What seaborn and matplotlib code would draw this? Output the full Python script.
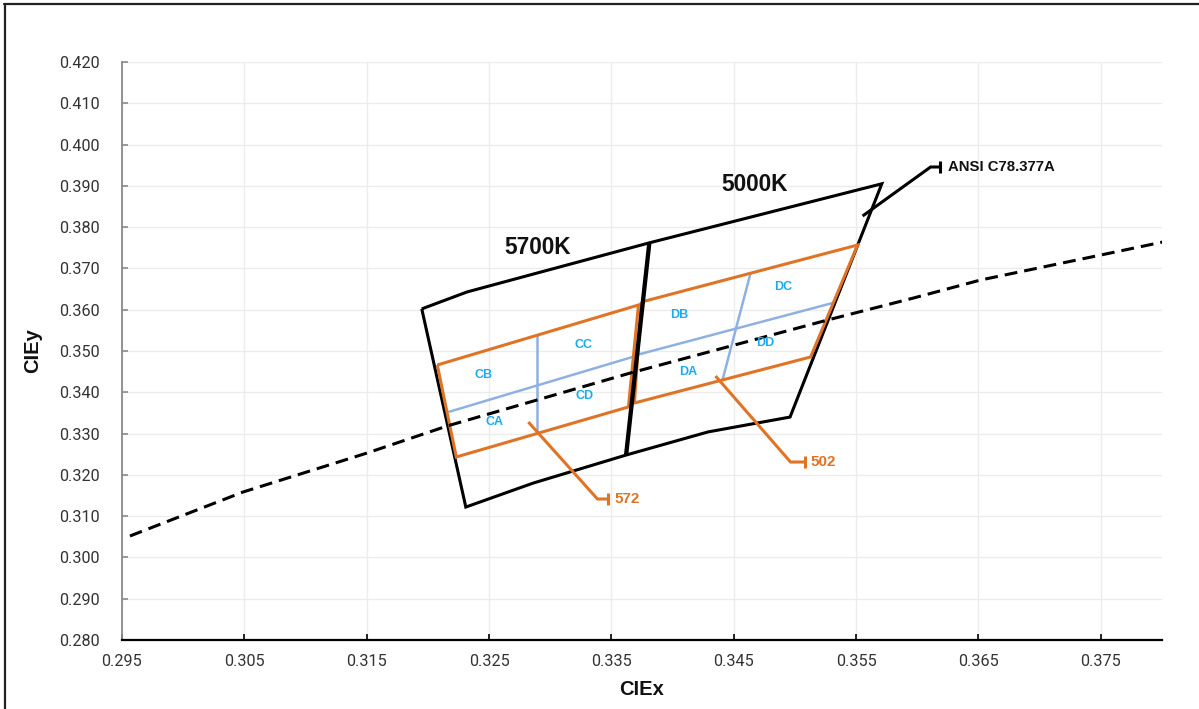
import matplotlib
matplotlib.use("Agg")
import matplotlib.pyplot as plt
import seaborn as sns
import numpy as np
from matplotlib.ticker import FormatStrFormatter
from matplotlib.lines import Line2D

# ---------------- data (CIE x, y) ----------------
planck_x = [0.29565, 0.30490, 0.31504, 0.32158, 0.33655, 0.35267, 0.35970, 0.36518, 0.37500, 0.38007]
planck_y = [0.30519, 0.31585, 0.32530, 0.33184, 0.34467, 0.35751, 0.36284, 0.36720, 0.37325, 0.37640]

outer_x = [0.3195, 0.3232, 0.3292, 0.3381, 0.3571, 0.3496, 0.3429, 0.3362, 0.3286, 0.3231, 0.3195]
outer_y = [0.3602, 0.3643, 0.3691, 0.3762, 0.3905, 0.3340, 0.3304, 0.3248, 0.3180, 0.3122, 0.3602]

divider_x = [0.3381, 0.3362]
divider_y = [0.3762, 0.3248]

orange57_x = [0.32077, 0.33721, 0.33639, 0.32232, 0.32077]
orange57_y = [0.34661, 0.36114, 0.33644, 0.32433, 0.34661]

orange50_x = [0.33745, 0.35512, 0.35128, 0.33688, 0.33745]
orange50_y = [0.36187, 0.37567, 0.34855, 0.33741, 0.36187]

blue57h_x = [0.32167, 0.33672]
blue57h_y = [0.33522, 0.34855]
blue57v_x = [0.32895, 0.32895]
blue57v_y = [0.35400, 0.33009]
blue50h_x = [0.33705, 0.35308]
blue50h_y = [0.34903, 0.36163]
blue50d_x = [0.34637, 0.34408]
blue50d_y = [0.36884, 0.34298]

cell_labels = ["CB", "CC", "CA", "CD", "DB", "DC", "DD", "DA"]
cell_x = [0.32453, 0.33271, 0.32543, 0.33279, 0.34056, 0.34907, 0.34760, 0.34130]
cell_y = [0.34419, 0.35145, 0.33280, 0.33910, 0.35872, 0.36550, 0.35194, 0.34491]

cct_labels = ["5700K", "5000K"]
cct_x = [0.32895, 0.34670]
cct_y = [0.37519, 0.39021]

ansi_x = [0.35553, 0.36109, 0.36183]
ansi_y = [0.38270, 0.39457, 0.39457]
ansi_text = "ANSI C78.377A"

a572_x = [0.32821, 0.33386, 0.33476]
a572_y = [0.33280, 0.31415, 0.31415]
a502_x = [0.34351, 0.34964, 0.35079]
a502_y = [0.34394, 0.32311, 0.32311]
ann_texts = ["572", "502"]

xticks = [0.295, 0.305, 0.315, 0.325, 0.335, 0.345, 0.355, 0.365, 0.375]
yticks = [0.280, 0.290, 0.300, 0.310, 0.320, 0.330, 0.340, 0.350, 0.360, 0.370, 0.380, 0.390, 0.400, 0.410, 0.420]

# ---------------- styling ----------------
sns.set_theme(style="white")
plt.rcParams['font.family'] = ['Roboto', 'DejaVu Sans']

BLACK = "#000000"
ORANGE = "#E07426"
LBLUE = "#8FB1E1"
TXTBLUE = "#1AABEF"
BOLDFAM = ["Liberation Sans", "DejaVu Sans"]

fig = plt.figure(figsize=(11.99, 7.09), dpi=100)
ax = fig.add_axes([0.10175, 0.09732, 0.86739, 0.81523])

def path(xs, ys, color, lw, ls="-", z=3):
    sns.lineplot(x=xs, y=ys, sort=False, estimator=None, ax=ax, color=color,
                 linewidth=lw, linestyle=ls, zorder=z, solid_joinstyle="miter",
                 solid_capstyle="butt")

# Planckian locus (dashed)
path(planck_x, planck_y, BLACK, 2.2, ls=(0, (4.2, 2.3)), z=4)

# outer ANSI quadrangles
path(outer_x, outer_y, BLACK, 2.2)
path(divider_x, divider_y, BLACK, 3.1, z=5)

# orange sub-quadrangles
path(orange57_x, orange57_y, ORANGE, 2.2)
path(orange50_x, orange50_y, ORANGE, 2.2)

# blue sub-division lines
for bx, by in [(blue57h_x, blue57h_y), (blue57v_x, blue57v_y),
               (blue50h_x, blue50h_y), (blue50d_x, blue50d_y)]:
    path(bx, by, LBLUE, 1.8, z=2.5)

# cell labels
for t, x, y in zip(cell_labels, cell_x, cell_y):
    ax.text(x, y, t, color=TXTBLUE, fontsize=9, fontweight="bold",
            family=BOLDFAM, ha="center", va="center", zorder=6)

for t, x, y in zip(cct_labels, cct_x, cct_y):
    ax.text(x, y, t, color="#111111", fontsize=16.3, fontweight="bold",
            family=BOLDFAM, ha="center", va="center", zorder=6)

# ANSI annotation
path(ansi_x, ansi_y, BLACK, 2.2, z=5)
ax.plot([ansi_x[-1]], [ansi_y[-1]], marker="|", color=BLACK, markersize=8, mew=2.2, zorder=5)
ax.text(ansi_x[-1] + 0.00065, ansi_y[-1], ansi_text, color="#111111", fontsize=10.7,
        fontweight="bold", family=BOLDFAM, ha="left", va="center")

# orange annotations
for (axs, ays), t in zip([(a572_x, a572_y), (a502_x, a502_y)], ann_texts):
    path(axs, ays, ORANGE, 2.2, z=5)
    ax.plot([axs[-1]], [ays[-1]], marker="|", color=ORANGE, markersize=8, mew=2.2, zorder=5)
    ax.text(axs[-1] + 0.0005, ays[-1], t, color=ORANGE, fontsize=11, fontweight="bold",
            family=BOLDFAM, ha="left", va="center")

# axes
ax.set_xlim(0.295, 0.380)
ax.set_ylim(0.280, 0.420)
ax.set_xticks(xticks)
ax.set_yticks(yticks)
ax.xaxis.set_major_formatter(FormatStrFormatter('%.3f'))
ax.yaxis.set_major_formatter(FormatStrFormatter('%.3f'))
ax.grid(True, color="#ececec", linewidth=1.0)
ax.set_axisbelow(True)
for s in ["top", "right"]:
    ax.spines[s].set_visible(False)
ax.spines["left"].set_color("#8a8a8a")
ax.spines["left"].set_linewidth(1.3)
ax.spines["bottom"].set_color("#000000")
ax.spines["bottom"].set_linewidth(1.6)
ax.tick_params(axis="x", direction="in", length=4, width=1.2, color="#000000",
               labelsize=11.7, labelcolor="#333333", pad=10)
ax.tick_params(axis="y", direction="in", length=4, width=1.2, color="#8a8a8a",
               labelsize=11.7, labelcolor="#333333", pad=16)
ax.tick_params(axis="x", bottom=True)
ax.tick_params(axis="y", left=True)

ax.set_xlabel("CIEx", fontsize=14.5, fontweight="bold", family=BOLDFAM,
              color="#111111", labelpad=8)
ax.set_ylabel("CIEy", fontsize=14.5, fontweight="bold", family=BOLDFAM,
              color="#111111", labelpad=12)

# figure frame lines (top and left)
fig.add_artist(Line2D([4/1199, 1.0], [1 - 3.5/709, 1 - 3.5/709], transform=fig.transFigure,
                      color="#222222", linewidth=1.6))
fig.add_artist(Line2D([4.5/1199, 4.5/1199], [0.0, 1 - 3.5/709], transform=fig.transFigure,
                      color="#222222", linewidth=1.6))

fig.savefig("out.png", dpi=100)
